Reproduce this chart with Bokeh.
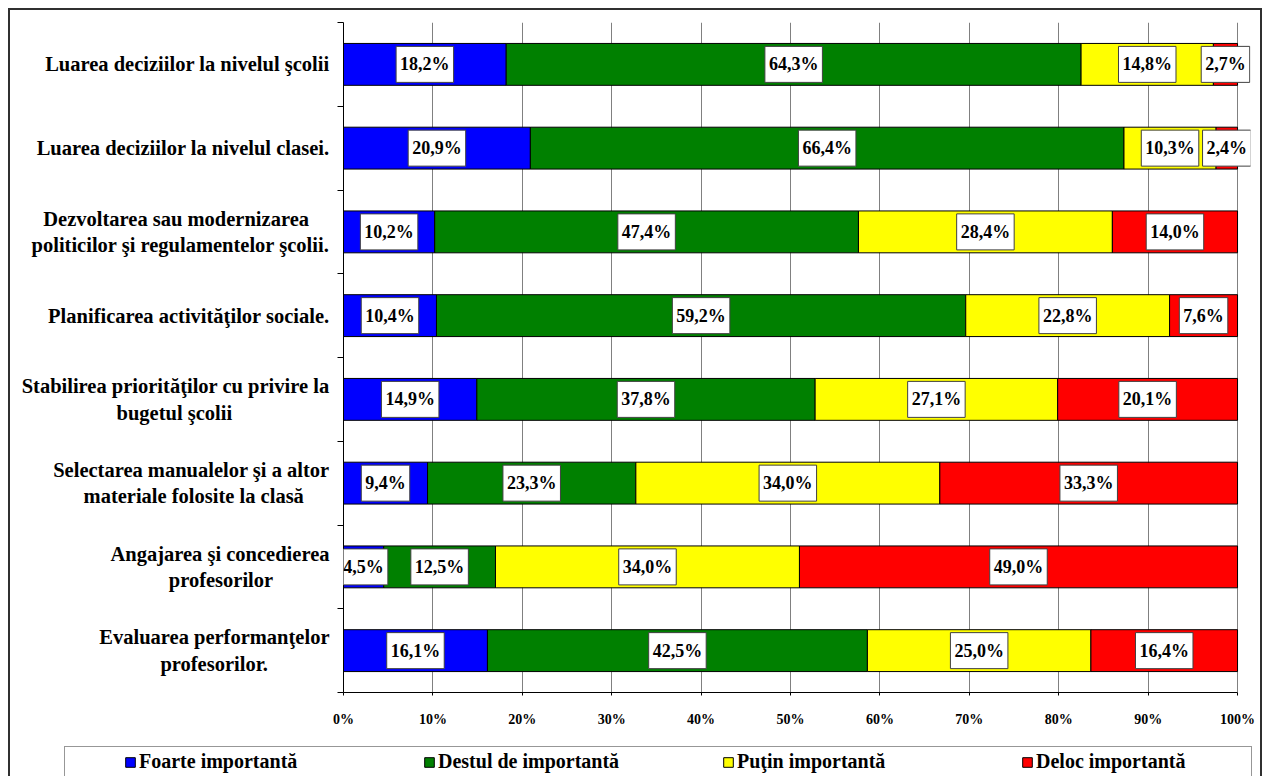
from bokeh.plotting import figure
from bokeh.models import (ColumnDataSource, Range1d, FixedTicker, Legend,
                          LegendItem, Label)
from bokeh.embed import file_html
from bokeh.resources import INLINE

NB = "\u00a0"
categories = [
    "Luarea deciziilor la nivelul şcolii",
    "Luarea deciziilor la nivelul clasei.",
    "Dezvoltarea sau modernizarea" + NB * 4 + "\npoliticilor şi regulamentelor şcolii.",
    "Planificarea activităţilor sociale.",
    "Stabilirea priorităţilor cu privire la\nbugetul şcolii" + NB * 19,
    "Selectarea manualelor şi a altor\nmateriale folosite la clasă" + NB * 5,
    "Angajarea şi concedierea\nprofesorilor" + NB * 11,
    "Evaluarea performanţelor\nprofesorilor." + NB * 12,
]
series_names = ["Foarte importantă", "Destul de importantă",
                "Puţin importantă", "Deloc importantă"]
foarte = [18.2, 20.9, 10.2, 10.4, 14.9, 9.4, 4.5, 16.1]
destul = [64.3, 66.4, 47.4, 59.2, 37.8, 23.3, 12.5, 42.5]
putin = [14.8, 10.3, 28.4, 22.8, 27.1, 34.0, 34.0, 25.0]
deloc = [2.7, 2.4, 14.0, 7.6, 20.1, 33.3, 49.0, 16.4]
x_tick_values = [0, 10, 20, 30, 40, 50, 60, 70, 80, 90, 100]
x_tick_labels = ["0%", "10%", "20%", "30%", "40%", "50%", "60%", "70%",
                 "80%", "90%", "100%"]
colors = ["#0000FF", "#008000", "#FFFF00", "#FF0000"]

FONT = "Liberation Serif"
BORDER = "2px solid #303030"
series = [foarte, destul, putin, deloc]
keys = ["s0", "s1", "s2", "s3"]
n = len(categories)
ypos = [n - 1 - i for i in range(n)]

# 100% stacked: normalise each row
totals = [sum(s[i] for s in series) for i in range(n)]
shares = [[s[i] / totals[i] * 100 for i in range(n)] for s in series]

data = {"y": ypos}
for k, sh in zip(keys, shares):
    data[k] = sh
src = ColumnDataSource(data)

# frame a little wider than 0-100 % so the end labels are not clipped
p = figure(width=1254, height=730, output_backend="svg", toolbar_location=None,
           x_range=Range1d(0, 101.45), y_range=Range1d(-0.5, n - 0.5))
p.styles = {"margin": "8px 0 0 8px",
            "border-left": BORDER, "border-top": BORDER, "border-right": BORDER}
p.min_border_left = 333
p.min_border_right = 14
p.min_border_top = 12
p.min_border_bottom = 48
p.background_fill_color = "white"
p.border_fill_color = "white"
p.outline_line_color = None

renderers = p.hbar_stack(keys, y="y", height=0.5, color=colors,
                         line_color="black", line_width=1, source=src)

# x axis
xt = FixedTicker(ticks=x_tick_values)
p.xaxis.ticker = xt
p.xaxis.bounds = (0, 100)
p.xaxis.major_label_overrides = {v: l for v, l in zip(x_tick_values, x_tick_labels)}
p.xaxis.major_label_text_font = FONT
p.xaxis.major_label_text_font_style = "bold"
p.xaxis.major_label_text_font_size = "14px"
p.xaxis.major_label_text_color = "black"
p.xaxis.major_tick_out = 3
p.xaxis.major_tick_in = 0
p.xaxis.minor_tick_out = 0
p.xaxis.major_label_standoff = 16
p.xaxis.axis_line_color = "black"
p.xaxis.major_tick_line_color = "black"
p.xgrid.ticker = xt
p.xgrid.grid_line_color = "#808080"
p.xgrid.grid_line_width = 1

# y axis
yt = FixedTicker(ticks=ypos, minor_ticks=[v - 0.5 for v in range(n + 1)])
p.yaxis.ticker = yt
p.yaxis.major_label_overrides = {y: c for y, c in zip(ypos, categories)}
p.yaxis.major_label_text_font = FONT
p.yaxis.major_label_text_font_style = "bold"
p.yaxis.major_label_text_font_size = "20.5px"
p.yaxis.major_label_text_color = "black"
p.yaxis.major_tick_out = 0
p.yaxis.major_tick_in = 0
p.yaxis.minor_tick_out = 6
p.yaxis.minor_tick_in = 0
p.yaxis.minor_tick_line_color = "black"
p.yaxis.major_label_standoff = 8
p.yaxis.axis_line_color = "black"
p.ygrid.grid_line_color = None

# data labels
for k, (vals, sh) in enumerate(zip(series, shares)):
    for i in range(n):
        left = sum(shares[j][i] for j in range(k))
        mid = left + sh[i] / 2
        txt = ("%.1f" % vals[i]).replace(".", ",") + "%"
        p.add_layout(Label(x=mid, y=ypos[i], text=txt,
                           text_align="center", text_baseline="middle",
                           text_font=FONT, text_font_style="bold",
                           text_font_size="18px", text_color="black",
                           background_fill_color="white",
                           border_line_color="#404040", border_line_width=1,
                           padding=dict(x=4, y=8)))

# legend strip (second canvas below the chart, same bar renderers off-range)
p2 = figure(width=1254, height=38, output_backend="svg", toolbar_location=None,
            x_range=Range1d(0, 100), y_range=Range1d(100, 101),
            x_axis_location=None, y_axis_location=None)
p2.styles = {"margin": "0 0 0 8px",
             "border-left": BORDER, "border-right": BORDER}
p2.min_border_left = 54
p2.min_border_right = 0
p2.min_border_top = 8
p2.min_border_bottom = 0
p2.outline_line_color = None
p2.xgrid.grid_line_color = None
p2.ygrid.grid_line_color = None
p2.background_fill_color = "white"
p2.border_fill_color = "white"
leg_r = p2.hbar_stack(keys, y="y", height=0.5, color=colors,
                      line_color="black", line_width=1, source=src)

legend = Legend(items=[LegendItem(label=nm, renderers=[r])
                       for nm, r in zip(series_names, leg_r)],
                orientation="horizontal", location="top_left",
                label_text_font=FONT, label_text_font_style="bold",
                label_text_font_size="20px", label_text_color="black",
                glyph_width=12, glyph_height=12, label_standoff=3,
                label_width=212, spacing=72, padding=3, margin=0,
                title=" ", title_location="left", title_standoff=41,
                border_line_color="#303030", border_line_width=1,
                background_fill_color="white", background_fill_alpha=1)
p2.add_layout(legend)

open("out.html", "w").write(file_html([p, p2], INLINE))
